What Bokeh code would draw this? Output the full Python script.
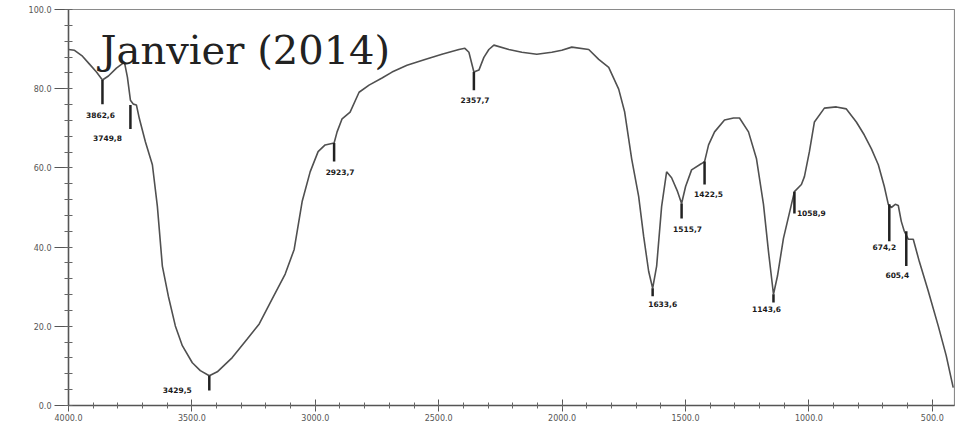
from bokeh.plotting import figure
from bokeh.models import Range1d, FixedTicker, NumeralTickFormatter, Label
from bokeh.core.properties import value
from bokeh.embed import file_html
from bokeh.resources import INLINE

# IR spectrum (wavenumber cm-1, %T)
wavenumber = [4000, 3975.7, 3943.4, 3915.0, 3886.7, 3862.4, 3838.2, 3805.8, 3773.4, 3761.3,
              3749.1, 3737.0, 3724.9, 3712.7, 3688.5, 3660.1, 3639.9, 3619.7, 3595.4, 3567.1,
              3538.8, 3498.3, 3465.9, 3429.5, 3397.1, 3336.5, 3275.8, 3227.2, 3174.6, 3122.0,
              3085.6, 3053.3, 3020.9, 2988.6, 2960.2, 2923.8, 2911.7, 2891.4, 2859.0, 2822.6,
              2782.2, 2729.6, 2689.1, 2628.4, 2555.6, 2486.8, 2418.0, 2393.8, 2377.6, 2357.4,
              2337.1, 2316.9, 2296.7, 2276.4, 2215.7, 2163.1, 2102.4, 2041.7, 2001.3, 1960.8,
              1892.0, 1851.6, 1811.1, 1770.7, 1746.4, 1718.1, 1689.8, 1669.5, 1649.3, 1633.1,
              1616.9, 1596.7, 1576.5, 1556.3, 1532.0, 1515.8, 1499.6, 1475.3, 1434.9, 1422.7,
              1406.5, 1382.2, 1341.8, 1305.4, 1281.1, 1244.7, 1212.3, 1184.0, 1163.8, 1143.5,
              1127.3, 1103.1, 1070.7, 1058.6, 1030.3, 1018.1, 997.9, 977.6, 937.2, 888.6,
              848.2, 807.7, 775.4, 746.6, 718.7, 694.4, 678.2, 666.1, 649.9, 637.8,
              625.6, 613.5, 597.3, 577.1, 552.8, 516.4, 475.9, 443.6, 415.2]
transmittance = [89.9, 89.7, 88.2, 86.2, 84.2, 82.2, 83.2, 85.2, 86.7, 82.9,
                 77.1, 76.1, 75.9, 72.4, 66.6, 60.8, 50.3, 35.2, 27.6, 20.1,
                 15.1, 10.8, 8.8, 7.5, 8.5, 12.1, 16.8, 20.6, 26.9, 33.2,
                 39.4, 51.5, 59.0, 64.1, 65.8, 66.3, 69.1, 72.4, 74.1, 79.1,
                 80.9, 82.7, 84.2, 85.9, 87.4, 88.7, 89.9, 90.2, 89.2, 84.2,
                 84.7, 87.9, 89.9, 91.0, 89.9, 89.2, 88.7, 89.2, 89.7, 90.5,
                 89.9, 87.4, 85.4, 79.9, 74.1, 62.3, 52.8, 42.7, 33.9, 29.6,
                 35.2, 50.3, 59.0, 57.5, 54.0, 51.0, 55.3, 59.5, 61.1, 61.6,
                 65.8, 69.1, 72.1, 72.6, 72.6, 69.1, 62.3, 50.8, 38.9, 28.1,
                 32.7, 42.2, 50.8, 54.0, 55.8, 57.8, 64.1, 71.6, 75.1, 75.4,
                 74.9, 71.6, 68.3, 64.8, 60.8, 55.3, 50.8, 50.0, 50.8, 50.5,
                 46.5, 44.0, 42.0, 42.0, 36.4, 28.9, 20.1, 12.6, 4.5]

# peak markers
peak_wn = [3862.4, 3749.1, 3429.5, 2923.8, 2357.4, 1633.1, 1515.8, 1422.7, 1143.5, 1058.6, 674.2, 605.4]
peak_top = [82.2, 75.9, 7.5, 66.3, 84.2, 29.6, 51.0, 61.6, 28.1, 54.0, 50.8, 44.0]
peak_bottom = [76.1, 69.8, 3.8, 61.6, 79.6, 27.6, 47.2, 55.8, 26.0, 48.5, 41.5, 35.2]
peak_labels = ["3862,6", "3749,8", "3429,5", "2923,7", "2357,7", "1633,6",
               "1515,7", "1422,5", "1143,6", "1058,9", "674,2", "605,4"]
label_wn = [3870.5, 3842.2, 3559.0, 2899.5, 2353.0, 1592.6, 1491.5, 1406.5, 1171.8, 990.0, 694.4, 641.8]
label_t = [73.4, 67.6, 3.8, 59.0, 77.1, 25.6, 44.5, 53.3, 24.4, 48.5, 39.9, 32.9]

x_ticks = [4000, 3500, 3000, 2500, 2000, 1500, 1000, 500]
x_minor = list(range(4000, 400, -100))
y_ticks = [0, 20, 40, 60, 80, 100]
y_minor = list(range(0, 101, 4))

p = figure(width=955, height=427, x_range=Range1d(4000, 410), y_range=Range1d(0, 100),
           output_backend="svg", toolbar_location=None,
           min_border_left=68, min_border_right=1, min_border_top=9, min_border_bottom=22)
p.xgrid.visible = False
p.ygrid.visible = False
p.outline_line_color = "#8a8a8a"
p.outline_line_width = 1.2
p.background_fill_color = "white"
p.border_fill_color = "white"

p.line(wavenumber, transmittance, line_color="#505050", line_width=1.6)
p.segment(x0=peak_wn, y0=peak_top, x1=peak_wn, y1=peak_bottom, line_color="#222222", line_width=2.5)
p.text(x=label_wn, y=label_t, text=peak_labels, text_font=value("DejaVu Sans"),
       text_font_style="bold", text_font_size="7.5px", text_align="center",
       text_baseline="middle", text_color="#1a1a1a")

p.xaxis.ticker = FixedTicker(ticks=x_ticks, minor_ticks=x_minor)
p.yaxis.ticker = FixedTicker(ticks=y_ticks, minor_ticks=y_minor)
p.xaxis.formatter = NumeralTickFormatter(format="0.0")
p.yaxis.formatter = NumeralTickFormatter(format="0.0")
for ax in (p.xaxis[0], p.yaxis[0]):
    ax.axis_line_color = "#555555"
    ax.axis_line_width = 1.5
    ax.major_tick_line_color = "#555555"
    ax.minor_tick_line_color = "#666666"
    ax.major_label_text_font = "DejaVu Sans"
    ax.major_label_text_font_size = "8px"
    ax.major_label_text_color = "#555555"
p.xaxis.major_tick_in = 6
p.xaxis.major_tick_out = 6
p.xaxis.minor_tick_in = 3
p.xaxis.minor_tick_out = 3
p.xaxis.major_label_standoff = 2
p.yaxis.major_tick_in = 0
p.yaxis.major_tick_out = 14
p.yaxis.minor_tick_in = 4
p.yaxis.minor_tick_out = 4
p.yaxis.major_label_standoff = 3

p.add_layout(Label(x=3870, y=89.7, text="Janvier (2014)", text_font="DejaVu Serif",
                   text_font_size="40px", text_baseline="alphabetic", text_color="#222222"))
p.add_layout(Label(x=4000, y=90, x_offset=-30, text="%T", text_font="DejaVu Sans",
                   text_font_size="7px", text_align="right", text_baseline="middle",
                   text_color="#444444"))
p.add_layout(Label(x=410, y=-3.9, text="cm-1", text_font="DejaVu Sans",
                   text_font_size="6px", text_align="right", text_baseline="middle",
                   text_color="#555555"))

open("out.html", "w").write(file_html(p, INLINE))
